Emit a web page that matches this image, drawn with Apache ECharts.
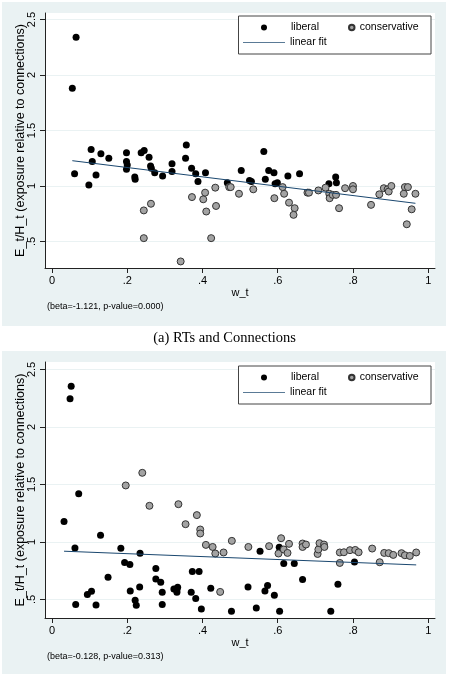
<!DOCTYPE html>
<html>
<head>
<meta charset="utf-8">
<script src="https://cdn.jsdelivr.net/npm/echarts@6.0.0/dist/echarts.min.js"></script>
<style>
  html, body { margin: 0; padding: 0; background: #fff; }
  #chart { width: 449px; height: 677px; }
</style>
</head>
<body>
<div id="chart"></div>
<script>
// panel (a): RTs and Connections
const lib1X = [0.054,0.064,0.060,0.098,0.104,0.107,0.117,0.130,0.151,0.198,0.198,0.200,0.198,0.220,0.221,0.237,0.245,0.258,0.262,0.264,0.273,0.294,0.319,0.319,0.355,0.357,0.371,0.382,0.388,0.408,0.466,0.503,0.525,0.530,0.563,0.567,0.576,0.590,0.593,0.599,0.627,0.658,0.736,0.754,0.756]
const lib1Y = [1.88,2.34,1.11,1.01,1.33,1.22,1.10,1.29,1.25,1.30,1.22,1.19,1.15,1.08,1.06,1.30,1.32,1.26,1.18,1.16,1.12,1.09,1.20,1.13,1.25,1.37,1.16,1.11,1.04,1.12,1.03,1.14,1.05,1.04,1.31,1.06,1.14,1.12,1.02,1.03,1.09,1.11,1.02,1.08,1.03]
const con1X = [0.244,0.263,0.244,0.342,0.372,0.402,0.407,0.410,0.423,0.434,0.436,0.471,0.475,0.497,0.535,0.591,0.613,0.617,0.630,0.645,0.642,0.679,0.683,0.708,0.727,0.737,0.738,0.746,0.755,0.763,0.779,0.800,0.800,0.848,0.870,0.882,0.892,0.895,0.902,0.935,0.938,0.946,0.943,0.956,0.966]
const con1Y = [0.78,0.84,0.53,0.32,0.90,0.88,0.94,0.77,0.53,0.985,0.82,0.99,0.99,0.93,0.97,0.89,0.99,0.93,0.85,0.80,0.74,0.94,0.94,0.96,0.985,0.93,0.89,0.92,0.92,0.80,0.98,1.00,0.97,0.83,0.925,0.98,0.97,0.95,1.00,0.93,0.99,0.99,0.655,0.79,0.93]
const fit1X = [0.054, 0.966]
const fit1Y = [1.228, 0.844]

// panel (b)
const lib2X = [0.051,0.048,0.071,0.032,0.061,0.063,0.094,0.105,0.117,0.129,0.149,0.183,0.193,0.207,0.208,0.221,0.224,0.233,0.234,0.276,0.276,0.289,0.293,0.293,0.324,0.332,0.334,0.332,0.370,0.373,0.382,0.391,0.397,0.422,0.477,0.521,0.543,0.553,0.566,0.573,0.591,0.604,0.605,0.616,0.644,0.666,0.741,0.760,0.804]
const lib2Y = [2.355,2.246,1.418,1.178,0.948,0.455,0.542,0.571,0.451,1.058,0.692,0.945,0.821,0.803,0.573,0.492,0.449,0.608,0.902,0.768,0.678,0.649,0.562,0.455,0.591,0.582,0.605,0.562,0.562,0.742,0.507,0.742,0.416,0.597,0.396,0.608,0.425,0.919,0.573,0.620,0.536,0.954,0.396,0.812,0.812,0.672,0.396,0.632,0.826]
const con2X = [0.196,0.240,0.259,0.336,0.355,0.385,0.394,0.394,0.409,0.427,0.434,0.456,0.478,0.447,0.522,0.577,0.602,0.609,0.616,0.626,0.630,0.666,0.666,0.675,0.706,0.708,0.711,0.723,0.724,0.765,0.765,0.776,0.792,0.806,0.815,0.851,0.871,0.883,0.895,0.907,0.929,0.938,0.951,0.968]
const con2Y = [1.491,1.601,1.314,1.328,1.154,1.233,1.108,1.073,0.974,0.956,0.899,0.908,1.009,0.565,0.956,0.963,0.899,1.032,0.934,0.904,0.983,0.986,0.956,0.977,0.895,0.934,0.989,0.977,0.956,0.908,0.817,0.910,0.928,0.930,0.910,0.942,0.823,0.904,0.902,0.887,0.902,0.884,0.878,0.908]
const fit2X = [0.032, 0.968]
const fit2Y = [0.919, 0.800]

const xTicks = [0, 0.2, 0.4, 0.6, 0.8, 1]
const yTicks = [0.5, 1, 1.5, 2, 2.5]
const notes = ['(beta=-1.121, p-value=0.000)', '(beta=-0.128, p-value=0.313)']

const SANS = 'Liberation Sans, Arial, sans-serif'
const PANEL = '#eaf2f3'
const AXIS = '#222'
const NAVY = '#1a476f'

const zip = (xs, ys) => xs.map((x, i) => [x, ys[i]])
const stataNum = v => String(+v.toFixed(2)).replace(/^0\./, '.')

const chart = echarts.init(document.getElementById('chart'))

const makeX = (i) => ({
  type: 'value',
  gridIndex: i,
  min: -0.0186,
  max: 1.018,
  name: 'w_t',
  nameLocation: 'middle',
  nameGap: 19,
  nameTextStyle: { color: '#000', fontSize: 11, fontFamily: SANS },
  axisLine: { show: true, onZero: false, lineStyle: { color: AXIS, width: 1 } },
  axisTick: { show: true, length: 5, customValues: xTicks, lineStyle: { color: AXIS } },
  axisLabel: { customValues: xTicks, formatter: stataNum, color: '#000', fontSize: 11, fontFamily: SANS, margin: 7 },
  splitLine: { show: false }
})

const makeY = (i, min, max) => ({
  type: 'value',
  gridIndex: i,
  min: min,
  max: max,
  name: 'E_t/H_t (exposure relative to connections)',
  nameLocation: 'middle',
  nameGap: 18,
  nameMoveOverlap: false,
  nameTextStyle: { color: '#000', fontSize: 12.5, fontFamily: SANS },
  axisLine: { show: true, onZero: false, lineStyle: { color: AXIS, width: 1 } },
  axisTick: { show: true, length: 5, customValues: yTicks, lineStyle: { color: AXIS } },
  axisLabel: { customValues: yTicks, formatter: stataNum, rotate: 90, color: '#000', fontSize: 11, fontFamily: SANS, margin: 8 },
  splitLine: { show: true, lineStyle: { color: PANEL, width: 1 } }
})

const libStyle = { color: '#000', opacity: 1 }
const conStyle = { color: '#a3a3a3', borderColor: '#333', borderWidth: 1, opacity: 1 }

const seriesFor = (i, lx, ly, cx, cy, fx, fy) => [
  { name: 'liberal', type: 'scatter', xAxisIndex: i, yAxisIndex: i, symbolSize: 7, itemStyle: libStyle, data: zip(lx, ly) },
  { name: 'conservative', type: 'scatter', xAxisIndex: i, yAxisIndex: i, symbolSize: 7, itemStyle: conStyle, data: zip(cx, cy) },
  { name: 'linear fit', type: 'line', xAxisIndex: i, yAxisIndex: i, symbol: 'none', lineStyle: { color: NAVY, width: 1 }, itemStyle: { color: NAVY }, data: zip(fx, fy), z: 3 }
]

// legend pieces, stata-like key layout
const legendsFor = (dy) => {
  const base = { orient: 'horizontal', padding: 0, selectedMode: false, z: 10,
    textStyle: { color: '#000', fontSize: 10.5, fontFamily: SANS } }
  return [
    Object.assign({}, base, { left: 261, top: 22 + dy, itemWidth: 6, itemHeight: 6,
      textStyle: Object.assign({}, base.textStyle, { padding: [0, 0, 0, 19] }),
      data: [{ name: 'liberal', icon: 'circle' }] }),
    Object.assign({}, base, { left: 348, top: 22 + dy, itemWidth: 6, itemHeight: 5.5,
      data: [{ name: 'conservative', icon: 'circle' }] }),
    Object.assign({}, base, { left: 243, top: 37 + dy, itemWidth: 42, itemHeight: 1.2,
      data: [{ name: 'linear fit', icon: 'rect', itemStyle: { color: '#5a7a96' } }] })
  ]
}

const option = {
  animation: false,
  backgroundColor: '#fff',
  title: [
    { text: notes[0], left: 47, top: 302, padding: 0, textStyle: { fontSize: 9, fontWeight: 'normal', color: '#000', fontFamily: SANS } },
    { text: '(a) RTs and Connections', left: 'center', top: 330.5, padding: 0, textStyle: { fontSize: 14.5, fontWeight: 'normal', color: '#000', fontFamily: 'Liberation Serif, Times New Roman, serif' } },
    { text: notes[1], left: 47, top: 652, padding: 0, textStyle: { fontSize: 9, fontWeight: 'normal', color: '#000', fontFamily: SANS } }
  ],
  graphic: [
    { type: 'rect', z: -10, shape: { x: 2, y: 2, width: 444, height: 324 }, style: { fill: PANEL } },
    { type: 'rect', z: -10, shape: { x: 2, y: 351, width: 444, height: 323 }, style: { fill: PANEL } },
    { type: 'rect', z: 3, shape: { x: 238.5, y: 16, width: 192.5, height: 38 }, style: { fill: '#fff', stroke: '#444', lineWidth: 1 } },
    { type: 'rect', z: 3, shape: { x: 238.5, y: 366, width: 192.5, height: 38 }, style: { fill: '#fff', stroke: '#444', lineWidth: 1 } }
  ],
  legend: legendsFor(0).concat(legendsFor(350)),
  grid: [
    { left: 45, top: 13, width: 390, height: 255, show: true, backgroundColor: '#fff', borderWidth: 0, outerBoundsMode: 'none' },
    { left: 45, top: 362, width: 390, height: 256, show: true, backgroundColor: '#fff', borderWidth: 0, outerBoundsMode: 'none' }
  ],
  xAxis: [makeX(0), makeX(1)],
  yAxis: [makeY(0, 0.261, 2.559), makeY(1, 0.338, 2.565)],
  series: seriesFor(0, lib1X, lib1Y, con1X, con1Y, fit1X, fit1Y)
    .concat(seriesFor(1, lib2X, lib2Y, con2X, con2Y, fit2X, fit2Y))
}

chart.setOption(option)
</script>
</body>
</html>
